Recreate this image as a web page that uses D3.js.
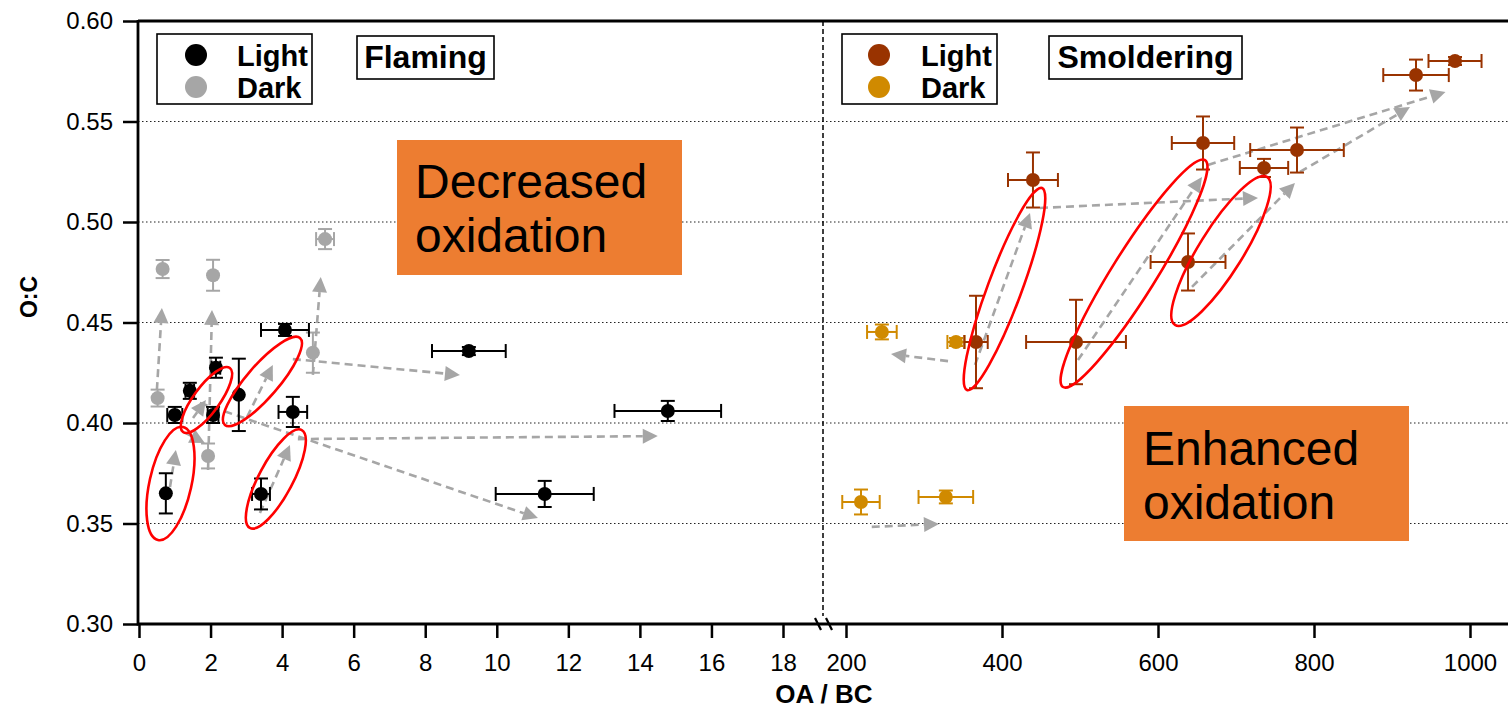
<!DOCTYPE html>
<html><head><meta charset="utf-8">
<script src="https://cdn.jsdelivr.net/npm/d3@7"></script>
<style>
body{margin:0;background:#fff}
svg{display:block}
text{font-family:"Liberation Sans",Arial,Helvetica,sans-serif}
</style>
</head><body>
<svg id="chart" width="1508" height="708"></svg>
<script>
// ---------------- DATA ----------------
const yTicks = [0.30, 0.35, 0.40, 0.45, 0.50, 0.55, 0.60];
const xTicksFlaming = [0, 2, 4, 6, 8, 10, 12, 14, 16, 18];
const xTicksSmoldering = [200, 400, 600, 800, 1000];

// Flaming (OA/BC 0-18)
const flamingLight = [
  {x:0.75, y:0.365,  xe:0,    ye:0.010},
  {x:1.00, y:0.404,  xe:0.21, ye:0.004},
  {x:1.42, y:0.416,  xe:0.12, ye:0.004},
  {x:2.15, y:0.4275, xe:0.12, ye:0.005},
  {x:2.07, y:0.404,  xe:0.15, ye:0.004},
  {x:2.79, y:0.414,  xe:0,    ye:0.018},
  {x:4.08, y:0.4463, xe:0.67, ye:0.003},
  {x:4.30, y:0.4055, xe:0.40, ye:0.0075},
  {x:3.41, y:0.3647, xe:0.25, ye:0.0077},
  {x:9.22, y:0.4358, xe:1.03, ye:0.002},
  {x:14.78,y:0.406,  xe:1.49, ye:0.005},
  {x:11.34,y:0.3647, xe:1.37, ye:0.0065}
];
const flamingDark = [
  {x:0.52, y:0.4124, xe:0,    ye:0.0042},
  {x:0.66, y:0.4766, xe:0,    ye:0.0045},
  {x:2.07, y:0.4735, xe:0,    ye:0.0077},
  {x:1.93, y:0.3836, xe:0,    ye:0.0062},
  {x:5.20, y:0.4915, xe:0.25, ye:0.005},
  {x:4.86, y:0.435,  xe:0,    ye:0.010}
];
// Smoldering (OA/BC 200-1000)
const smolderingLight = [
  {x:366.7, y:0.4403, xe:15, ye:0.023},
  {x:494.9, y:0.4403, xe:64, ye:0.021},
  {x:439.7, y:0.5209, xe:32, ye:0.0137},
  {x:638.5, y:0.4801, xe:48, ye:0.0142},
  {x:657.7, y:0.5393, xe:40, ye:0.0132},
  {x:735.9, y:0.5269, xe:31, ye:0.0045},
  {x:778.2, y:0.5358, xe:60, ye:0.0112},
  {x:930.8, y:0.5731, xe:42, ye:0.0077},
  {x:980.8, y:0.5801, xe:34, ye:0.002}
];
const smolderingDark = [
  {x:246,   y:0.4453, xe:19, ye:0.0037},
  {x:341,   y:0.4403, xe:11, ye:0.002},
  {x:219.2, y:0.3607, xe:24, ye:0.0062},
  {x:328,   y:0.3632, xe:35, ye:0.0032}
];
// arrows [x1, y1, x2(tip), y2(tip)]
const flamingArrows = [
  [0.50,0.4164, 0.64,0.4572],
  [1.93,0.3766, 2.04,0.4562],
  [4.86,0.4239, 5.08,0.4726],
  [4.30,0.4318, 8.97,0.4239],
  [4.44,0.3920, 14.50,0.3935],
  [1.70,0.4100, 11.15,0.3527],
  [0.81,0.3617, 1.03,0.3866],
  [1.31,0.3950, 1.84,0.3900],
  [1.51,0.4025, 1.87,0.4114],
  [3.02,0.4030, 3.74,0.4289],
  [3.38,0.3552, 4.22,0.3890]
];
const smolderingArrows = [
  [330.8,0.4308, 257.7,0.4343],
  [233.0,0.3483, 319.2,0.3498],
  [365.4,0.4289, 435.9,0.5045],
  [448.7,0.5070, 728.2,0.5120],
  [497.4,0.4313, 656.4,0.5224],
  [664.1,0.5284, 968.6,0.5647],
  [643.6,0.4677, 775.6,0.5194],
  [782.0,0.5249, 923.0,0.5572]
];
// red ellipses: major-axis end points in data units [x1,y1,x2,y2]
const flamingEllipses = [
  [0.53,0.3418, 1.23,0.3980],
  [1.23,0.3955, 2.54,0.4274],
  [2.40,0.3990, 4.50,0.4423],
  [3.10,0.3478, 4.55,0.3965]
];
const smolderingEllipses = [
  [355.1,0.4164, 451.3,0.5169],
  [478.2,0.4179, 660.3,0.5308],
  [621.8,0.4488, 739.7,0.5224]
];
const legendLabels = ["Light", "Dark"];
const panelTitles = ["Flaming", "Smoldering"];
const annotations = [["Decreased", "oxidation"], ["Enhanced", "oxidation"]];

// ---------------- LAYOUT ----------------
const svg = d3.select("#chart");
const plotLeft = 138, plotRight = 1508, plotTop = 21, plotBottom = 624, breakX = 823;
const y = d3.scaleLinear().domain([0.30, 0.60]).range([plotBottom, plotTop]);
const xF = d3.scaleLinear().domain([0, 18]).range([139, 783]);
const xS = d3.scaleLinear().domain([200, 1000]).range([846, 1470]);

const colors = {fl:"#000000", fd:"#A6A6A6", sl:"#993300", sd:"#D08A00"};
const arrowColor = "#A6A6A6";

// gridlines
svg.append("g").selectAll("line").data(yTicks.filter(t => t > 0.30 && t < 0.60)).join("line")
  .attr("x1", plotLeft).attr("x2", plotRight)
  .attr("y1", d => y(d)).attr("y2", d => y(d))
  .attr("stroke", "#222").attr("stroke-width", 1.2).attr("stroke-dasharray", "1.5,2.5");

// vertical dashed separator
svg.append("line").attr("x1", breakX).attr("x2", breakX).attr("y1", plotTop).attr("y2", plotBottom - 8)
  .attr("stroke", "#000").attr("stroke-width", 1.5).attr("stroke-dasharray", "5,3");

// orange annotation boxes
const boxes = [{x0:397, y0:140, x1:682, y1:275, tx:415, b:[198,252]}, {x0:1124, y0:406, x1:1409, y1:541, tx:1143, b:[465,519]}];
boxes.forEach((bx, i) => {
  svg.append("rect").attr("x", bx.x0).attr("y", bx.y0).attr("width", bx.x1 - bx.x0).attr("height", bx.y1 - bx.y0)
    .attr("fill", "#ED7D31");
  annotations[i].forEach((t, j) => {
    svg.append("text").attr("x", bx.tx).attr("y", bx.b[j]).attr("font-size", 48).attr("fill", "#000").text(t);
  });
});

// arrows
function drawArrows(g, arr, xs) {
  arr.forEach(a => {
    const x1 = xs(a[0]), y1 = y(a[1]), x2 = xs(a[2]), y2 = y(a[3]);
    const dx = x2 - x1, dy = y2 - y1, L = Math.hypot(dx, dy);
    const ux = dx / L, uy = dy / L, hl = 15, hw = 7.5;
    const bx = x2 - ux * hl, by = y2 - uy * hl;
    g.append("line").attr("x1", x1).attr("y1", y1).attr("x2", bx).attr("y2", by)
      .attr("stroke", arrowColor).attr("stroke-width", 2.6).attr("stroke-dasharray", "8,5");
    g.append("path").attr("d", `M${x2},${y2}L${bx - uy * hw},${by + ux * hw}L${bx + uy * hw},${by - ux * hw}Z`)
      .attr("fill", arrowColor);
  });
}
const gArrows = svg.append("g");
drawArrows(gArrows, flamingArrows, xF);
drawArrows(gArrows, smolderingArrows, xS);

// error bars + points
function drawSeries(data, xs, color) {
  const g = svg.append("g");
  const cap = 7;
  data.forEach(d => {
    const cx = xs(d.x), cy = y(d.y);
    if (d.ye > 0) {
      const t = y(d.y + d.ye), b = y(d.y - d.ye);
      g.append("line").attr("x1", cx).attr("x2", cx).attr("y1", t).attr("y2", b).attr("stroke", color).attr("stroke-width", 2);
      g.append("line").attr("x1", cx - cap).attr("x2", cx + cap).attr("y1", t).attr("y2", t).attr("stroke", color).attr("stroke-width", 2);
      g.append("line").attr("x1", cx - cap).attr("x2", cx + cap).attr("y1", b).attr("y2", b).attr("stroke", color).attr("stroke-width", 2);
    }
    if (d.xe > 0) {
      const l = xs(d.x - d.xe), r = xs(d.x + d.xe);
      g.append("line").attr("x1", l).attr("x2", r).attr("y1", cy).attr("y2", cy).attr("stroke", color).attr("stroke-width", 2);
      g.append("line").attr("x1", l).attr("x2", l).attr("y1", cy - cap).attr("y2", cy + cap).attr("stroke", color).attr("stroke-width", 2);
      g.append("line").attr("x1", r).attr("x2", r).attr("y1", cy - cap).attr("y2", cy + cap).attr("stroke", color).attr("stroke-width", 2);
    }
  });
  g.selectAll("circle").data(data).join("circle")
    .attr("cx", d => xs(d.x)).attr("cy", d => y(d.y)).attr("r", 7).attr("fill", color);
}
drawSeries(flamingDark, xF, colors.fd);
drawSeries(flamingLight, xF, colors.fl);
drawSeries(smolderingDark, xS, colors.sd);
drawSeries(smolderingLight, xS, colors.sl);

// red ellipses
function drawEllipses(arr, xs, minors) {
  arr.forEach((e, i) => {
    const x1 = xs(e[0]), y1 = y(e[1]), x2 = xs(e[2]), y2 = y(e[3]);
    const cx = (x1 + x2) / 2, cy = (y1 + y2) / 2;
    const a = Math.hypot(x2 - x1, y2 - y1) / 2;
    const ang = Math.atan2(y2 - y1, x2 - x1) * 180 / Math.PI;
    svg.append("ellipse").attr("cx", 0).attr("cy", 0).attr("rx", a).attr("ry", minors[i])
      .attr("transform", `translate(${cx},${cy}) rotate(${ang})`)
      .attr("fill", "none").attr("stroke", "#FF0000").attr("stroke-width", 2.6);
  });
}
drawEllipses(flamingEllipses, xF, [21, 13, 16, 17]);
drawEllipses(smolderingEllipses, xS, [17, 22, 22]);

// axes
const yAxis = d3.axisLeft(y).tickValues(yTicks).tickFormat(d3.format(".2f")).tickSize(15).tickPadding(10);
const gy = svg.append("g").attr("transform", `translate(${plotLeft},0)`).call(yAxis);
const xAxisF = d3.axisBottom(xF).tickValues(xTicksFlaming).tickFormat(d3.format("d")).tickSize(14).tickPadding(16);
const gxf = svg.append("g").attr("transform", `translate(0,${plotBottom})`).call(xAxisF);
const xAxisS = d3.axisBottom(xS).tickValues(xTicksSmoldering).tickFormat(d3.format("d")).tickSize(14).tickPadding(16);
const gxs = svg.append("g").attr("transform", `translate(0,${plotBottom})`).call(xAxisS);
[gy, gxf, gxs].forEach(g => {
  g.select(".domain").remove();
  g.selectAll(".tick line").attr("stroke", "#000").attr("stroke-width", 2.5);
  g.selectAll(".tick text").attr("font-size", 24).attr("fill", "#000")
    .attr("font-family", '"Liberation Sans",Arial,sans-serif');
});
// axis frame lines
svg.append("line").attr("x1", plotLeft).attr("x2", plotLeft).attr("y1", plotTop - 1).attr("y2", plotBottom + 1.5).attr("stroke", "#000").attr("stroke-width", 2.8);
svg.append("line").attr("x1", plotLeft).attr("x2", plotRight).attr("y1", plotBottom).attr("y2", plotBottom).attr("stroke", "#000").attr("stroke-width", 2.8);
svg.append("line").attr("x1", plotLeft).attr("x2", plotRight).attr("y1", plotTop).attr("y2", plotTop).attr("stroke", "#000").attr("stroke-width", 2.8);
// break marks
[[815, 618, 821, 630], [826, 618, 832, 630]].forEach(b => {
  svg.append("line").attr("x1", b[0]).attr("y1", b[1]).attr("x2", b[2]).attr("y2", b[3]).attr("stroke", "#000").attr("stroke-width", 2.2);
});

// axis titles
svg.append("text").attr("transform", "translate(37,297) rotate(-90)").attr("text-anchor", "middle")
  .attr("font-size", 23).attr("font-weight", "bold").text("O:C");
svg.append("text").attr("x", 824).attr("y", 703).attr("text-anchor", "middle")
  .attr("font-size", 26).attr("font-weight", "bold").text("OA / BC");

// legends & panel titles
const legends = [
  {x0:157, y0:34, x1:312, y1:104, cx:196, tx:237, c:[colors.fl, colors.fd], title:{x0:357, y0:36, x1:494, y1:79}},
  {x0:842, y0:34, x1:997, y1:104, cx:879, tx:921, c:[colors.sl, colors.sd], title:{x0:1049, y0:36, x1:1242, y1:79}}
];
legends.forEach((L, i) => {
  svg.append("rect").attr("x", L.x0).attr("y", L.y0).attr("width", L.x1 - L.x0).attr("height", L.y1 - L.y0)
    .attr("fill", "#fff").attr("stroke", "#000").attr("stroke-width", 1.6);
  legendLabels.forEach((lab, j) => {
    const cy = 55 + j * 32;
    svg.append("circle").attr("cx", L.cx).attr("cy", cy).attr("r", 11).attr("fill", L.c[j]);
    svg.append("text").attr("x", L.tx).attr("y", cy + 10.5).attr("font-size", 29).attr("font-weight", "bold").text(lab);
  });
  const T = L.title;
  svg.append("rect").attr("x", T.x0).attr("y", T.y0).attr("width", T.x1 - T.x0).attr("height", T.y1 - T.y0)
    .attr("fill", "#fff").attr("stroke", "#000").attr("stroke-width", 1.6);
  svg.append("text").attr("x", (T.x0 + T.x1) / 2).attr("y", 68).attr("text-anchor", "middle")
    .attr("font-size", 32).attr("font-weight", "bold").text(panelTitles[i]);
});
</script>
</body></html>
